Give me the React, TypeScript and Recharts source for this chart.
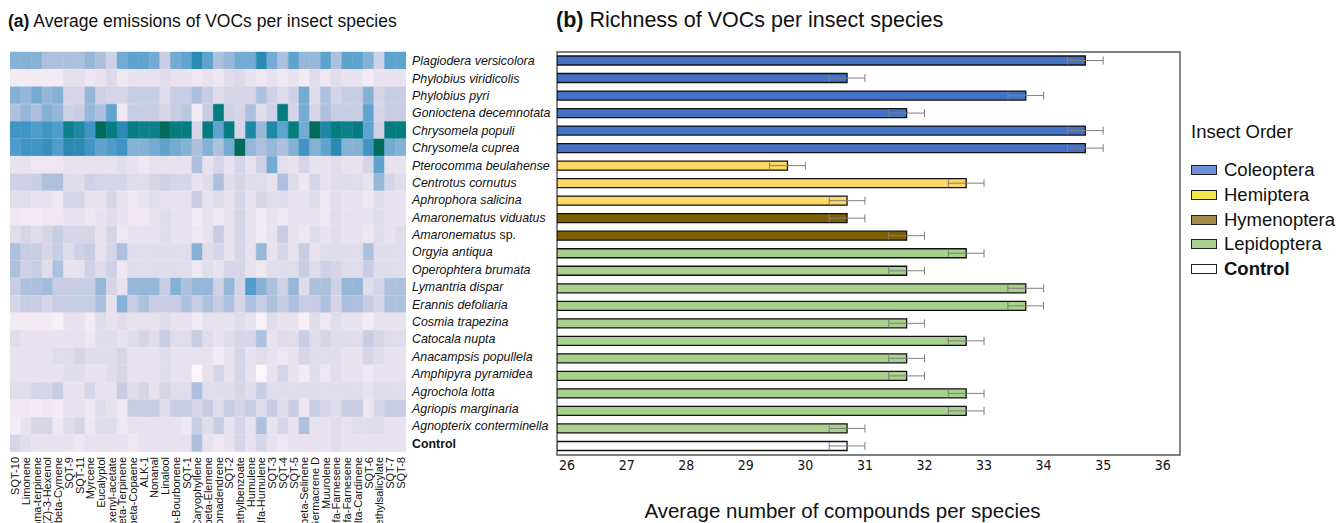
import React from "react";
import { BarChart, Bar, XAxis, YAxis, Cell, ErrorBar, ReferenceArea } from "recharts";

// rows, top to bottom (same order in both panels)
const SPECIES = [
  "Plagiodera versicolora",
  "Phylobius viridicolis",
  "Phylobius pyri",
  "Gonioctena decemnotata",
  "Chrysomela populi",
  "Chrysomela cuprea",
  "Pterocomma beulahense",
  "Centrotus cornutus",
  "Aphrophora salicina",
  "Amaronematus viduatus",
  "Amaronematus sp.",
  "Orgyia antiqua",
  "Operophtera brumata",
  "Lymantria dispar",
  "Erannis defoliaria",
  "Cosmia trapezina",
  "Catocala nupta",
  "Anacampsis popullela",
  "Amphipyra pyramidea",
  "Agrochola lotta",
  "Agriopis marginaria",
  "Agnopterix conterminella",
  "Control",
];

const INSECT_ORDER = [
  "Coleoptera", "Coleoptera", "Coleoptera", "Coleoptera", "Coleoptera", "Coleoptera",
  "Hemiptera", "Hemiptera", "Hemiptera",
  "Hymenoptera", "Hymenoptera",
  "Lepidoptera", "Lepidoptera", "Lepidoptera", "Lepidoptera", "Lepidoptera", "Lepidoptera",
  "Lepidoptera", "Lepidoptera", "Lepidoptera", "Lepidoptera", "Lepidoptera",
  "Control",
];

// (b) average number of compounds and its error
const RICHNESS = [
  34.7, 30.7, 33.7, 31.7, 34.7, 34.7, 29.7, 32.7, 30.7, 30.7, 31.7, 32.7,
  31.7, 33.7, 33.7, 31.7, 32.7, 31.7, 31.7, 32.7, 32.7, 30.7, 30.7,
];
const RICHNESS_SE = [
  0.3, 0.3, 0.3, 0.3, 0.3, 0.3, 0.3, 0.3, 0.3, 0.3, 0.3, 0.3,
  0.3, 0.3, 0.3, 0.3, 0.3, 0.3, 0.3, 0.3, 0.3, 0.3, 0.3,
];
const RICHNESS_TICKS = [26, 27, 28, 29, 30, 31, 32, 33, 34, 35, 36];

// (a) heatmap columns
const COMPOUNDS = [
  "SQT-10", "Limonene", "gamma-terpinene", "(Z)-3-Hexenol", "beta-Cymene", "SQT-9", "SQT-11",
  "Myrcene", "Eucalyptol", "(Z)-3-Hexenyl-acetate", "beta-Terpinene", "beta-Copaene", "ALK-1",
  "Nonanal", "Linalool", "beta-Bourbonene", "SQT-1", "Caryophyllene", "beta-Elemene",
  "Aromadendrene", "SQT-2", "Methylbenzoate", "Humulene", "alfa-Humulene", "SQT-3", "SQT-4",
  "SQT-5", "beta-Selinene", "Germacrene D", "Muurolene", "(Z,E)-alfa-Farnesene",
  "(E,E)-alfa-Farnesene", "delta-Cardinene", "SQT-6", "Methylsalicylate", "SQT-7", "SQT-8",
];

// relative emission level (0 = none .. 14 = highest), one row per species
const EMISSION_LEVELS = [
  [7.5, 7.5, 7.5, 6, 6, 6, 6, 7, 6, 4.5, 8, 9, 9, 8, 5, 8, 9, 11, 9, 6, 7, 8, 8, 11, 8, 6, 9, 7, 7, 9, 6, 9, 9, 7.5, 4.5, 9, 9],
  [1, 1, 1, 1, 1, 2.5, 2.5, 1.5, 2, 3.5, 1.5, 2, 2, 2, 3, 2, 2, 1.5, 2, 1.5, 3, 3.5, 2, 1.5, 2, 1.5, 2, 1, 3, 1.5, 3, 2, 2, 1, 2, 2, 2],
  [7.5, 7, 8, 7, 7.5, 4, 4, 7, 4.5, 4, 4, 5, 5, 5, 3, 5, 5, 6, 5, 3, 4, 4, 4, 6, 4.5, 3, 4.5, 8, 3, 6, 4, 5, 5, 7.5, 4, 5, 5],
  [6, 7, 6, 7.5, 7, 4.5, 5, 7, 6, 9, 1.5, 5, 5, 5, 4, 5, 5.5, 1, 5, 13, 4.5, 4, 6, 3, 4.5, 13, 4, 8, 4, 6, 5, 5, 5, 9, 4, 5, 5],
  [10, 10, 9.5, 10, 9.5, 12.5, 11.5, 10, 14, 13, 11, 13, 12.5, 12.5, 14, 13, 13, 4, 13, 9, 13, 4, 11.5, 7, 11.5, 9, 13, 8, 14, 11.5, 13, 12.5, 13, 9, 4.5, 13, 13],
  [9.5, 10, 10, 10.5, 9.5, 11, 11, 10, 9, 9.5, 10, 7.5, 7.5, 8, 9, 8, 7.5, 6, 7.5, 6, 8, 14, 7, 6, 7, 6, 7.5, 10, 7.5, 9, 11, 7.5, 7.5, 10, 14, 8, 7.5],
  [2, 2, 1.5, 1.5, 1.5, 2, 2, 2, 2, 2, 3, 2, 1.5, 2, 2, 2, 2, 6, 2, 4, 2, 4, 2, 4.5, 8, 2.5, 2, 4, 2, 2, 3, 2, 2, 4, 9, 2, 2],
  [4.5, 4.5, 5, 6, 6, 3, 3, 4.5, 4, 4, 4, 3, 3, 4, 4.5, 4, 4, 2, 3, 6, 3, 4, 3, 3, 2, 6, 3, 1.5, 4, 2, 3, 3, 3, 2, 7, 4, 3],
  [3, 3, 2, 2, 1.5, 4, 4, 2, 2, 4, 2, 1.5, 2, 3, 2, 2, 2, 5, 2, 3, 2, 4, 2, 4, 3, 3, 2, 2, 3, 1.5, 3, 2, 2, 1.5, 3, 2, 2],
  [1.5, 1, 1, 1.5, 1.5, 2, 2, 1.5, 2, 3, 2, 1.5, 1.5, 2, 3, 2, 2, 1, 2, 1.5, 2, 4, 2, 1, 2, 1.5, 2, 2, 2, 1.5, 3, 2, 2, 2, 3, 2, 2],
  [3, 4, 3, 4, 5, 4, 4, 4, 2, 4, 1.5, 2, 2, 2, 3, 2, 2, 1.5, 2, 5, 2, 4, 2, 1, 2, 5, 2, 1.5, 3, 2, 3, 2, 2, 1.5, 3, 2, 3],
  [6, 5, 5, 4, 5, 3, 4.5, 5, 2, 4, 6, 3, 3, 3, 3, 3, 3, 7.5, 3, 4, 2, 4, 2, 7, 2, 4, 2, 5, 2, 3, 3, 3, 3, 6, 3, 3, 3],
  [6, 4.5, 5, 3, 6, 2, 2, 4.5, 3, 4.5, 1.5, 3, 3, 3, 3, 3, 3, 1.5, 3, 2, 4, 4, 2, 1.5, 3, 3, 3, 5, 3, 4.5, 4, 3, 3, 5, 3, 3, 3],
  [5, 6, 6, 6.5, 5, 5, 5, 5, 7, 4, 2, 7, 7, 7, 5, 7.5, 6, 7, 7, 4.5, 7, 4, 9.5, 7.5, 6, 4.5, 7, 3, 6, 6, 4.5, 7, 7, 3, 4, 6, 6],
  [4, 5, 5, 4, 5, 5, 5, 5, 6, 2, 7.5, 5, 6, 5, 5, 5, 6, 5, 6, 5, 6, 4, 6, 5, 6, 5, 6, 5, 5, 6, 4, 6, 6, 5, 4, 6, 6],
  [1, 1, 1, 1, 0.5, 2, 2, 1, 3, 2, 3, 2, 2, 2, 3, 2, 2, 1, 2, 2, 2, 3, 2, 0.5, 3, 2, 2, 0.5, 3, 1.5, 3, 2, 2, 1, 2, 2, 2],
  [3, 2, 2, 2, 2, 2, 2, 1.5, 3, 3, 2, 3, 4, 3, 5, 3, 3, 5, 3, 2, 3, 4, 4, 6, 2, 3, 3, 5, 3, 4, 3, 3, 3, 5, 4, 3, 3],
  [2, 2, 2, 2, 3, 3, 4, 3, 3, 3, 4, 2, 2, 2, 3, 2, 2, 2, 2, 1, 2, 4, 2, 3, 2, 1.5, 2, 4, 3, 3, 3, 2, 2, 4, 3, 2, 2],
  [2, 2, 2, 2, 2, 3, 3, 2, 2, 3, 4, 2, 2, 2, 3, 2, 2, 0, 2, 4, 2, 4, 2, 0, 2, 4, 2, 1, 3, 1.5, 3, 2, 2, 1.5, 2, 2, 2],
  [3, 3, 4, 4, 5, 2, 2, 4, 2, 2, 5, 3, 4, 2, 4, 3, 3, 6, 3, 3, 3, 4, 3, 5, 3, 3, 3, 3, 3, 3, 3, 3, 3, 2, 3, 3, 3],
  [1.5, 1.5, 1, 1.5, 1, 2, 2, 1.5, 3, 2, 1.5, 5, 5, 5, 3, 5, 5, 4, 5, 3, 5, 4, 5, 3, 5, 3, 5, 1.5, 5, 4, 3, 5, 5, 1.5, 4, 5, 5],
  [1, 2, 4, 4, 1.5, 3, 4, 1.5, 3, 3, 1.5, 2, 2, 2, 2, 2, 1.5, 5, 3, 5, 2, 4, 2, 6, 2, 4, 2, 6, 2, 2, 3, 2, 3, 3, 3, 2, 2],
  [4, 3, 2, 2, 2, 2, 1.5, 2, 2, 2, 2, 1.5, 2, 2, 2, 2, 2, 6, 2, 1.5, 2, 4, 2, 4, 2, 1.5, 2, 2, 2, 2, 3, 2, 2, 2, 2, 2, 2],
];

const LEGEND_ORDERS = ["Coleoptera", "Hemiptera", "Hymenoptera", "Lepidoptera", "Control"];

const BAR_FILL: Record<string, string> = {
  Coleoptera: "#4472c4",
  Hemiptera: "#ffd966",
  Hymenoptera: "#7f6000",
  Lepidoptera: "#a9d18e",
  Control: "#ffffff",
};
// legend swatches are a bit lighter than the bars in the original figure
const LEGEND_FILL: Record<string, string> = {
  Coleoptera: "#6f8fd6",
  Hemiptera: "#f2ea4c",
  Hymenoptera: "#a58c4b",
  Lepidoptera: "#a9d08e",
  Control: "#ffffff",
};

// PuBuGn-like ramp
const LEVEL_STOPS: [number, string][] = [
  [0, "#fdf5fa"], [1, "#f3ebf4"], [2, "#e8e1ee"], [3, "#dfdcec"], [4, "#d6d5e8"],
  [5, "#c7cde3"], [6, "#adc0dd"], [7, "#96b7d8"], [8, "#74abd2"], [9, "#5fa3cf"],
  [10, "#4195c5"], [11, "#2a8ab4"], [12, "#138597"], [13, "#047c80"], [14, "#026b5c"],
];

const FONT = "'Liberation Sans', Arial, sans-serif";

function hexToRgb(h: string) {
  const n = parseInt(h.slice(1), 16);
  return [(n >> 16) & 255, (n >> 8) & 255, n & 255];
}

function levelColor(v: number) {
  const lo = Math.max(0, Math.min(LEVEL_STOPS.length - 2, Math.floor(v)));
  const t = Math.min(1, Math.max(0, v - lo));
  const a = hexToRgb(LEVEL_STOPS[lo][1]);
  const b = hexToRgb(LEVEL_STOPS[lo + 1][1]);
  const c = a.map((x, i) => Math.round(x + (b[i] - x) * t));
  return `rgb(${c[0]},${c[1]},${c[2]})`;
}

const heatData = SPECIES.map((name) => {
  const row: Record<string, string | number> = { name };
  COMPOUNDS.forEach((_, j) => (row[`c${j}`] = 1));
  return row;
});

const richnessData = SPECIES.map((name, i) => ({
  name,
  value: RICHNESS[i],
  se: RICHNESS_SE[i],
  order: INSECT_ORDER[i],
}));

function CompoundTick(props: any) {
  const { x, y, payload } = props;
  const label = COMPOUNDS[Math.floor(payload.value)];
  return (
    <text
      transform={`translate(${x},${y}) rotate(-90)`}
      textAnchor="end"
      dy="0.36em"
      fontSize={11}
      fontFamily={FONT}
      fill="#111"
    >
      {label}
    </text>
  );
}

function SpeciesTick(props: any) {
  const { x, y, payload } = props;
  const name: string = payload.value;
  const common = { x, y, dy: "0.36em", fontSize: 12.4, fontFamily: FONT, fill: "#111", textAnchor: "start" as const };
  if (name === "Control") {
    return (
      <text {...common} fontWeight="bold">
        {name}
      </text>
    );
  }
  if (name.endsWith(" sp.")) {
    return (
      <text {...common}>
        <tspan fontStyle="italic">{name.slice(0, -4)}</tspan>
        <tspan> sp.</tspan>
      </text>
    );
  }
  return (
    <text {...common} fontStyle="italic">
      {name}
    </text>
  );
}

function OrderLegend() {
  return (
    <div style={{ fontFamily: FONT, color: "#111" }}>
      <div style={{ fontSize: 18.5, marginBottom: 15 }}>Insect Order</div>
      {LEGEND_ORDERS.map((o) => (
        <div key={o} style={{ display: "flex", alignItems: "center", height: 24.7, fontSize: 18.5 }}>
          <span
            style={{
              display: "inline-block",
              width: 24,
              height: 8,
              marginRight: 7,
              background: LEGEND_FILL[o],
              border: "1.3px solid #222",
            }}
          />
          <span style={{ fontWeight: o === "Control" ? "bold" : "normal" }}>{o}</span>
        </div>
      ))}
    </div>
  );
}

const X_MIN = 25.83;
const X_MAX = 36.29;

export default function App() {
  return (
    <div style={{ position: "relative", width: 1340, height: 523, background: "#fff", overflow: "hidden" }}>
      <style>{"body{margin:0}"}</style>

      <div style={{ position: "absolute", left: 8, top: 11, fontFamily: FONT, fontSize: 17.5, color: "#111", whiteSpace: "nowrap" }}>
        <b>(a)</b> Average emissions of VOCs per insect species
      </div>
      <div style={{ position: "absolute", left: 556, top: 8, fontFamily: FONT, fontSize: 21.5, color: "#111", whiteSpace: "nowrap" }}>
        <b>(b)</b> Richness of VOCs per insect species
      </div>

      {/* (a) heatmap: 37 stacked unit bars per species row */}
      <div style={{ position: "absolute", left: 0, top: 0 }}>
        <BarChart
          width={556}
          height={523}
          data={heatData}
          layout="vertical"
          margin={{ top: 52, right: 0, bottom: 0, left: 10 }}
          barCategoryGap={0}
          barGap={0}
        >
          <XAxis
            type="number"
            domain={[0, COMPOUNDS.length]}
            ticks={COMPOUNDS.map((_, j) => j + 0.5)}
            interval={0}
            tick={<CompoundTick />}
            tickLine={false}
            axisLine={false}
            tickSize={0}
            tickMargin={5}
            height={71}
            allowDataOverflow
          />
          <YAxis
            type="category"
            dataKey="name"
            orientation="right"
            width={150}
            interval={0}
            tick={<SpeciesTick />}
            tickLine={false}
            axisLine={false}
            tickSize={0}
            tickMargin={6}
          />
          {COMPOUNDS.map((c, j) => (
            <Bar key={c} dataKey={`c${j}`} stackId="heat" isAnimationActive={false}>
              {SPECIES.map((s, i) => {
                const col = levelColor(EMISSION_LEVELS[i][j]);
                return <Cell key={s} fill={col} stroke={col} strokeWidth={0.5} />;
              })}
            </Bar>
          ))}
        </BarChart>
      </div>

      {/* (b) richness bars */}
      <div style={{ position: "absolute", left: 540, top: 0 }}>
        <BarChart
          width={800}
          height={523}
          data={richnessData}
          layout="vertical"
          margin={{ top: 52, right: 160, bottom: 0, left: 17 }}
          barCategoryGap={0}
        >
          <XAxis
            type="number"
            domain={[X_MIN, X_MAX]}
            ticks={RICHNESS_TICKS}
            interval={0}
            allowDataOverflow
            tickLine={false}
            axisLine={false}
            tickSize={0}
            tickMargin={5}
            height={68}
            tick={{ fontSize: 14, fontFamily: "'Liberation Sans Narrow', 'DejaVu Sans Condensed', sans-serif", fill: "#111" }}
            label={{
              content: (p: any) => {
                const vb = p.viewBox || { x: 0, y: 0, width: 0, height: 0 };
                return (
                  <text
                    x={vb.x + vb.width / 2 - 26}
                    y={vb.y + vb.height - 5}
                    textAnchor="middle"
                    fontSize={20.5}
                    fontFamily={FONT}
                    fill="#111"
                  >
                    Average number of compounds per species
                  </text>
                );
              },
            }}
          />
          <YAxis type="category" dataKey="name" hide />
          <ReferenceArea x1={X_MIN} x2={X_MAX} fill="none" stroke="#555" strokeWidth={1.4} ifOverflow="visible" />
          <Bar dataKey="value" barSize={9} stroke="#111" strokeWidth={1.3} isAnimationActive={false}>
            {richnessData.map((d) => (
              <Cell key={d.name} fill={BAR_FILL[d.order]} />
            ))}
            <ErrorBar dataKey="se" direction="x" width={4} stroke="#7f7f7f" strokeWidth={1} isAnimationActive={false} />
          </Bar>
        </BarChart>
      </div>

      <div style={{ position: "absolute", left: 1191, top: 121 }}>
        <OrderLegend />
      </div>
    </div>
  );
}
